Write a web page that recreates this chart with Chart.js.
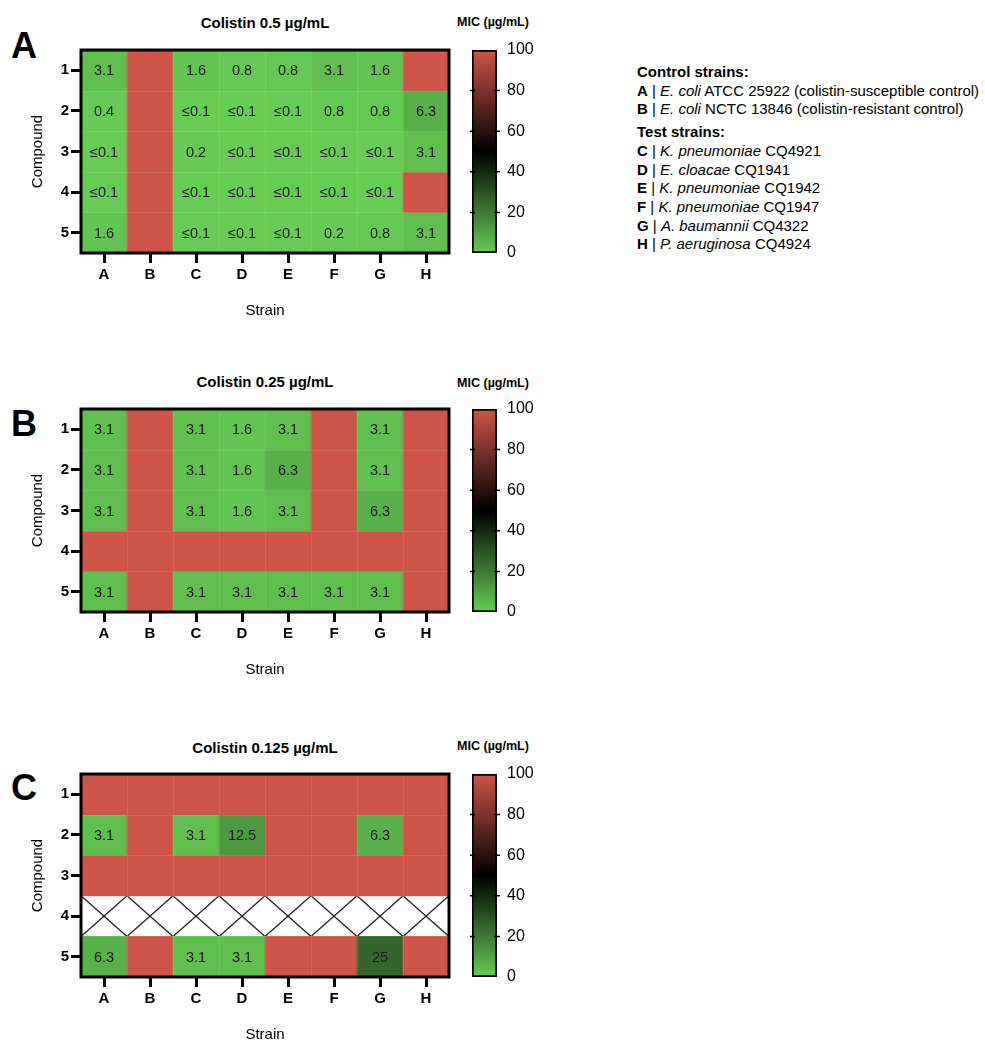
<!DOCTYPE html>
<html>
<head>
<meta charset="utf-8">
<script src="https://cdn.jsdelivr.net/npm/chart.js@4.4.1/dist/chart.umd.min.js"></script>
<style>
  body { margin: 0; background: #fff; overflow: hidden; font-family: "Liberation Sans", Arial, sans-serif; color: #000; }
  .abs { position: absolute; }
  .letter { font-weight: bold; font-size: 36px; line-height: 1; left: 11px; }
  .ptitle { font-weight: bold; font-size: 15px; line-height: 1; left: 115px; width: 300px; text-align: center; }
  .mic { font-weight: bold; font-size: 12.5px; line-height: 1; left: 433px; width: 120px; text-align: center; }
  #legend { left: 637px; top: 63px; font-size: 15px; line-height: 18.7px; white-space: nowrap; }
  canvas { position: absolute; }
</style>
</head>
<body>

<div class="abs letter" style="top:28px">A</div>
<div class="abs letter" style="top:406px">B</div>
<div class="abs letter" style="top:770px">C</div>

<div class="abs ptitle" style="top:15px">Colistin 0.5 µg/mL</div>
<div class="abs ptitle" style="top:374px">Colistin 0.25 µg/mL</div>
<div class="abs ptitle" style="top:740px">Colistin 0.125 µg/mL</div>

<div class="abs mic" style="top:16px">MIC (µg/mL)</div>
<div class="abs mic" style="top:377px">MIC (µg/mL)</div>
<div class="abs mic" style="top:740px">MIC (µg/mL)</div>

<div id="legend" class="abs">
  <b>Control strains:</b><br>
  <b>A</b> | <i>E. coli</i> ATCC 25922 (colistin-susceptible control)<br>
  <b>B</b> | <i>E. coli</i> NCTC 13846 (colistin-resistant control)<br>
  <div style="height:4px"></div>
  <b>Test strains:</b><br>
  <b>C</b> | <i>K. pneumoniae</i> CQ4921<br>
  <b>D</b> | <i>E. cloacae</i> CQ1941<br>
  <b>E</b> | <i>K. pneumoniae</i> CQ1942<br>
  <b>F</b> | <i>K. pneumoniae</i> CQ1947<br>
  <b>G</b> | <i>A. baumannii</i> CQ4322<br>
  <b>H</b> | <i>P. aeruginosa</i> CQ4924
</div>

<canvas id="heatA" width="460" height="333" style="left:0;top:0"></canvas>
<canvas id="barA" width="100" height="333" style="left:460px;top:0"></canvas>
<canvas id="heatB" width="460" height="333" style="left:0;top:359px"></canvas>
<canvas id="barB" width="100" height="333" style="left:460px;top:359px"></canvas>
<canvas id="heatC" width="460" height="333" style="left:0;top:724px"></canvas>
<canvas id="barC" width="100" height="333" style="left:460px;top:724px"></canvas>

<script>
// strains (columns) and compounds (rows)
const strains = ['A', 'B', 'C', 'D', 'E', 'F', 'G', 'H'];
const compounds = ['1', '2', '3', '4', '5'];

// MIC values in µg/mL, one row per compound. 100 = not inhibited (red, no label),
// 0.1 = "≤0.1", null = not tested (crossed cell)
const R = 100;
const colistin05 = [
    [3.1, R, 1.6, 0.8, 0.8, 3.1, 1.6, R],
    [0.4, R, 0.1, 0.1, 0.1, 0.8, 0.8, 6.3],
    [0.1, R, 0.2, 0.1, 0.1, 0.1, 0.1, 3.1],
    [0.1, R, 0.1, 0.1, 0.1, 0.1, 0.1, R],
    [1.6, R, 0.1, 0.1, 0.1, 0.2, 0.8, 3.1]
];
const colistin025 = [
    [3.1, R, 3.1, 1.6, 3.1, R, 3.1, R],
    [3.1, R, 3.1, 1.6, 6.3, R, 3.1, R],
    [3.1, R, 3.1, 1.6, 3.1, R, 6.3, R],
    [R, R, R, R, R, R, R, R],
    [3.1, R, 3.1, 3.1, 3.1, 3.1, 3.1, R]
];
const colistin0125 = [
    [R, R, R, R, R, R, R, R],
    [3.1, R, 3.1, 12.5, R, R, 6.3, R],
    [R, R, R, R, R, R, R, R],
    [null, null, null, null, null, null, null, null],
    [6.3, R, 3.1, 3.1, R, R, 25, R]
];
const colorbarTicks = [0, 20, 40, 60, 80, 100];

const FONT = '"Liberation Sans", Arial, sans-serif';
const GREEN = [102, 204, 84];
const RED = [205, 84, 71];

function colorFor(v) {
    const t = Math.max(0, Math.min(v, 100)) / 100;
    let c;
    if (t < 0.5) c = GREEN.map(x => Math.round(x * (1 - t * 2)));
    else c = RED.map(x => Math.round(x * (t - 0.5) * 2));
    return `rgb(${c[0]},${c[1]},${c[2]})`;
}

function cellText(v) {
    if (v == null || v >= 100) return '';
    return v <= 0.1 ? '≤0.1' : String(v);
}

const cellPlugin = {
    id: 'cells',
    beforeDatasetsDraw(chart) {
        // crossed cells for compounds that were not tested
        const { ctx, scales: { x, y } } = chart;
        const rows = chart.config.options.plugins.cells.rows;
        const half = (x.getPixelForValue(1) - x.getPixelForValue(0)) / 2;
        ctx.save();
        ctx.strokeStyle = '#222';
        ctx.lineWidth = 1.3;
        rows.forEach((row, r) => {
            row.forEach((v, c) => {
                if (v !== null) return;
                const cx = x.getPixelForValue(c);
                const y0 = y.getPixelForValue(r + 0.5), y1 = y.getPixelForValue(r + 1.5);
                ctx.beginPath();
                ctx.moveTo(cx - half, y0); ctx.lineTo(cx + half, y1);
                ctx.moveTo(cx - half, y1); ctx.lineTo(cx + half, y0);
                ctx.stroke();
            });
        });
        ctx.restore();
    },
    afterDatasetsDraw(chart) {
        const { ctx, chartArea, scales: { x, y } } = chart;
        const rows = chart.config.options.plugins.cells.rows;
        ctx.save();
        // faint separators between cells
        ctx.strokeStyle = 'rgba(255,255,255,0.1)';
        ctx.lineWidth = 1;
        const half = (x.getPixelForValue(1) - x.getPixelForValue(0)) / 2;
        for (let c = 1; c < strains.length; c++) {
            const px = Math.round(x.getPixelForValue(c) - half) + 0.5;
            ctx.beginPath(); ctx.moveTo(px, chartArea.top); ctx.lineTo(px, chartArea.bottom); ctx.stroke();
        }
        for (let r = 1; r < compounds.length; r++) {
            const py = Math.round(y.getPixelForValue(r + 0.5)) + 0.5;
            ctx.beginPath(); ctx.moveTo(chartArea.left, py); ctx.lineTo(chartArea.right, py); ctx.stroke();
        }
        ctx.font = `14.5px ${FONT}`;
        ctx.fillStyle = '#1a1a1a';
        ctx.textAlign = 'center';
        ctx.textBaseline = 'middle';
        chart.data.datasets.forEach((ds, r) => {
            chart.getDatasetMeta(r).data.forEach((el, c) => {
                const txt = cellText(rows[r][c]);
                if (!txt) return;
                const p = el.getProps(['x', 'y', 'base'], true);
                ctx.fillText(txt, p.x, (p.y + p.base) / 2 + 1);
            });
        });
        ctx.strokeStyle = '#000';
        ctx.lineWidth = 3;
        ctx.strokeRect(chartArea.left, chartArea.top, chartArea.right - chartArea.left, chartArea.bottom - chartArea.top);
        ctx.restore();
    }
};

function heatmap(id, rows) {
    return new Chart(document.getElementById(id), {
        type: 'bar',
        data: {
            labels: strains,
            datasets: rows.map((row, r) => ({
                label: compounds[r],
                data: row.map(v => v === null ? null : [r + 0.5, r + 1.5]),
                backgroundColor: row.map(v => v === null ? 'rgba(0,0,0,0)' : colorFor(v)),
                borderWidth: 0,
                barPercentage: 1,
                categoryPercentage: 1,
                grouped: false
            }))
        },
        options: {
            responsive: false,
            animation: false,
            layout: { padding: { top: 50, right: 11, left: 0, bottom: 0 } },
            plugins: { legend: { display: false }, tooltip: { enabled: false }, cells: { rows } },
            scales: {
                x: {
                    type: 'category',
                    offset: true,
                    border: { display: false },
                    grid: { offset: false, drawOnChartArea: false, tickLength: 10, tickWidth: 3, tickColor: '#000' },
                    ticks: { color: '#000', font: { family: FONT, size: 15, weight: 'bold' }, padding: 3 },
                    title: { display: true, text: 'Strain', color: '#000', font: { family: FONT, size: 15 }, padding: { bottom: 13 } },
                    afterFit: s => { s.height = 80; }
                },
                y: {
                    type: 'linear',
                    min: 0.5,
                    max: 5.5,
                    reverse: true,
                    border: { display: false },
                    afterBuildTicks: s => { s.ticks = compounds.map((c, i) => ({ value: i + 1 })); },
                    grid: { drawOnChartArea: false, tickLength: 10, tickWidth: 3, tickColor: '#000' },
                    ticks: { color: '#000', font: { family: FONT, size: 15, weight: 'bold' }, padding: 2,
                             callback: v => compounds[v - 1] },
                    title: { display: true, text: 'Compound', color: '#000', font: { family: FONT, size: 15 }, padding: { top: 29 } },
                    afterFit: s => { s.width = 81; }
                }
            }
        },
        plugins: [cellPlugin]
    });
}

const barTicksPlugin = {
    id: 'barTicks',
    afterDatasetsDraw(chart) {
        const { ctx, chartArea, scales: { y } } = chart;
        ctx.save();
        ctx.strokeStyle = '#000';
        ctx.lineWidth = 1.5;
        colorbarTicks.slice(1, -1).forEach(v => {
            const py = y.getPixelForValue(v);
            ctx.beginPath();
            ctx.moveTo(chartArea.left - 2, py); ctx.lineTo(chartArea.left + 3, py);
            ctx.moveTo(chartArea.right - 3, py); ctx.lineTo(chartArea.right + 3, py);
            ctx.stroke();
        });
        ctx.restore();
    }
};

function colorbar(id) {
    return new Chart(document.getElementById(id), {
        type: 'bar',
        data: {
            labels: ['MIC'],
            datasets: [{
                data: [[0, 100]],
                backgroundColor: ctx => {
                    const y = ctx.chart.scales.y;
                    if (!y || !ctx.chart.chartArea) return '#888';
                    const p0 = y.getPixelForValue(0), p1 = y.getPixelForValue(100);
                    if (!isFinite(p0) || !isFinite(p1)) return '#888';
                    const g = ctx.chart.ctx.createLinearGradient(0, p0, 0, p1);
                    for (let v = 0; v <= 100; v += 10) g.addColorStop(v / 100, colorFor(v));
                    return g;
                },
                borderColor: '#000',
                borderWidth: 2,
                borderSkipped: false,
                barPercentage: 1,
                categoryPercentage: 1
            }]
        },
        options: {
            responsive: false,
            animation: false,
            layout: { padding: { top: 50, bottom: 80, left: 12, right: 0 } },
            plugins: { legend: { display: false }, tooltip: { enabled: false } },
            scales: {
                x: { display: false },
                y: {
                    position: 'right',
                    min: 0,
                    max: 100,
                    afterBuildTicks: s => { s.ticks = colorbarTicks.map(v => ({ value: v })); },
                    border: { display: false },
                    grid: { display: false, drawTicks: false },
                    ticks: { color: '#000', font: { family: FONT, size: 16 }, padding: 10 },
                    afterFit: s => { s.width = 63; }
                }
            }
        },
        plugins: [barTicksPlugin]
    });
}

heatmap('heatA', colistin05);
heatmap('heatB', colistin025);
heatmap('heatC', colistin0125);
colorbar('barA');
colorbar('barB');
colorbar('barC');
</script>
</body>
</html>
